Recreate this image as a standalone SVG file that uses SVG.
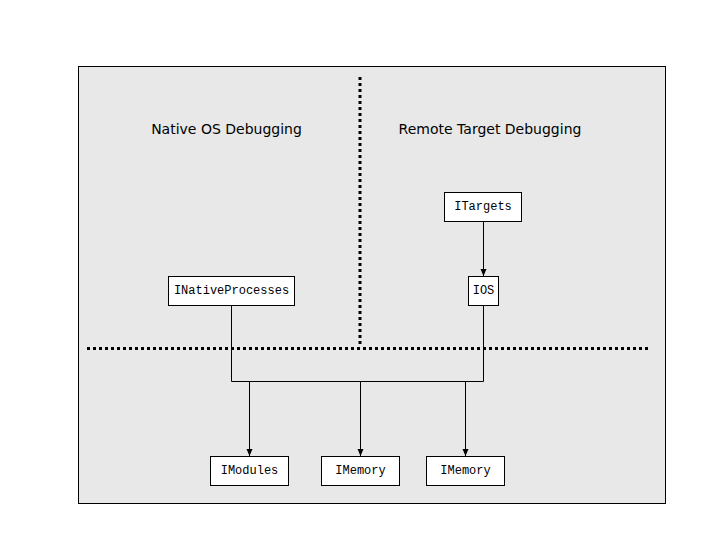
<svg xmlns="http://www.w3.org/2000/svg" width="720" height="540" viewBox="0 0 720 540">
<style>
.node rect{fill:#fff;stroke:#000;stroke-width:1}
.node text{font-family:"Liberation Mono","DejaVu Sans Mono",monospace;font-size:12px;fill:#000;text-anchor:middle}
.title{font-family:"DejaVu Sans","Liberation Sans",sans-serif;font-size:14px;fill:#000;text-anchor:middle}
.dot{stroke:#000;stroke-width:3;stroke-dasharray:3 3;fill:none}
.conn{stroke:#000;stroke-width:1;fill:none}
</style>
<defs>
<marker id="arr" markerWidth="8" markerHeight="8" refX="7" refY="4" orient="auto" markerUnits="userSpaceOnUse">
<path d="M0,1 L7,4 L0,7 Z" fill="#000"/>
</marker>
</defs>
<rect x="0" y="0" width="720" height="540" fill="#fff"/>
<rect x="78.5" y="66.5" width="587" height="437" fill="#e8e8e8" stroke="#000" stroke-width="1"/>
<line class="dot" x1="360" y1="77" x2="360" y2="346"/>
<line class="dot" x1="87" y1="348.5" x2="650" y2="348.5"/>
<text class="title" x="226.5" y="134">Native OS Debugging</text>
<text class="title" x="490" y="134">Remote Target Debugging</text>
<g id="connectors">
<line class="conn" x1="483.5" y1="222" x2="483.5" y2="276" marker-end="url(#arr)"/>
<polyline class="conn" points="231.5,306 231.5,381.5 483.5,381.5 483.5,306"/>
<line class="conn" x1="249.5" y1="381.5" x2="249.5" y2="456" marker-end="url(#arr)"/>
<line class="conn" x1="360.5" y1="381.5" x2="360.5" y2="456" marker-end="url(#arr)"/>
<line class="conn" x1="465.5" y1="381.5" x2="465.5" y2="456" marker-end="url(#arr)"/>
</g>
<g id="ITargets" class="node"><rect x="444.5" y="192.5" width="77" height="29"/><text x="483" y="210">ITargets</text></g>
<g id="IOS" class="node"><rect x="468.5" y="276.5" width="30" height="29"/><text x="483.5" y="294">IOS</text></g>
<g id="INativeProcesses" class="node"><rect x="168.5" y="276.5" width="126" height="29"/><text x="231.5" y="294">INativeProcesses</text></g>
<g id="IModules" class="node"><rect x="210.5" y="456.5" width="78" height="29"/><text x="249.5" y="474">IModules</text></g>
<g id="IMemory1" class="node"><rect x="321.5" y="456.5" width="78" height="29"/><text x="360.5" y="474">IMemory</text></g>
<g id="IMemory2" class="node"><rect x="426.5" y="456.5" width="78" height="29"/><text x="465.5" y="474">IMemory</text></g>
</svg>
